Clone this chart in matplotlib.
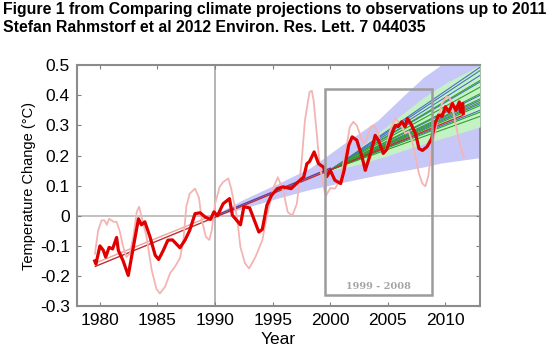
import numpy as np
import matplotlib
matplotlib.use("Agg")
import matplotlib.pyplot as plt
from matplotlib.patches import Rectangle

plt.rcParams['font.family'] = ['Liberation Sans', 'DejaVu Sans']

# observations, adjusted (thick red)
obsYear = [1979.55, 1979.65, 1979.8, 1980.0, 1980.3, 1980.5, 1980.8, 1981.1, 1981.45, 1981.6,
           1982.0, 1982.46, 1982.9, 1983.35, 1983.6, 1983.9, 1984.35, 1984.8, 1985.1, 1985.5,
           1985.9, 1986.3, 1986.95, 1987.4, 1987.8, 1988.26, 1988.7, 1989.13, 1989.6, 1989.9,
           1990.2, 1990.7, 1991.25, 1991.5, 1992.2, 1992.5, 1993.0, 1993.8, 1994.1, 1994.5,
           1994.9, 1995.4, 1995.9, 1996.6, 1997.2, 1997.7, 1997.97, 1998.2, 1998.6, 1998.98,
           1999.4, 1999.7, 2000.0, 2000.4, 2000.9, 2001.2, 2001.6, 2001.9, 2002.3, 2002.76,
           2003.04, 2003.5, 2003.9, 2004.2, 2004.6, 2004.9, 2005.4, 2005.65, 2005.9, 2006.2,
           2006.5, 2006.7, 2007.0, 2007.4, 2007.7, 2008.0, 2008.4, 2008.8, 2009.1, 2009.4,
           2009.7, 2010.0, 2010.3, 2010.6, 2010.9, 2011.2, 2011.3, 2011.5, 2011.55]
obsAdj = [-0.15, -0.16, -0.135, -0.10, -0.115, -0.137, -0.105, -0.11, -0.072, -0.115,
          -0.148, -0.198, -0.104, -0.01, -0.03, -0.02, -0.07, -0.131, -0.145, -0.115,
          -0.081, -0.08, -0.106, -0.08, -0.048, 0.007, 0.01, -0.004, -0.012, 0.013,
          0.0, 0.04, 0.057, 0.002, -0.03, 0.03, 0.026, -0.054, -0.045, 0.035,
          0.068, 0.09, 0.096, 0.09, 0.112, 0.129, 0.173, 0.18, 0.212, 0.173,
          0.162, 0.13, 0.151, 0.118, 0.107, 0.15, 0.234, 0.262, 0.251, 0.195,
          0.151, 0.207, 0.267, 0.25, 0.207, 0.22, 0.278, 0.3, 0.296, 0.312,
          0.296, 0.323, 0.305, 0.273, 0.223, 0.217, 0.229, 0.256, 0.306, 0.334,
          0.33, 0.362, 0.345, 0.373, 0.35, 0.378, 0.345, 0.373, 0.34]

# observations, unadjusted (pink)
rawYear = [1979.57, 1979.85, 1980.15, 1980.4, 1980.6, 1980.8, 1981.2, 1981.45, 1981.74, 1982.0,
           1982.3, 1982.6, 1982.9, 1983.2, 1983.4, 1983.6, 1984.05, 1984.5, 1984.9, 1985.2,
           1985.65, 1986.1, 1986.5, 1986.96, 1987.25, 1987.5, 1987.8, 1988.26, 1988.6, 1988.85,
           1989.2, 1989.5, 1989.7, 1990.0, 1990.4, 1990.7, 1991.15, 1991.4, 1991.6, 1991.9,
           1992.2, 1992.6, 1992.95, 1993.5, 1994.1, 1994.5, 1995.1, 1995.45, 1995.9, 1996.3,
           1996.7, 1997.1, 1997.5, 1997.8, 1998.2, 1998.4, 1998.55, 1998.8, 1999.1, 1999.6,
           2000.0, 2000.4, 2000.87, 2001.3, 2001.7, 2002.0, 2002.3, 2002.76, 2003.0, 2003.5,
           2003.8, 2004.1, 2004.5, 2004.8, 2005.2, 2005.65, 2006.1, 2006.5, 2006.8, 2007.1,
           2007.4, 2007.7, 2008.0, 2008.26, 2008.5, 2008.8, 2009.3, 2009.7, 2010.1, 2010.4,
           2010.7, 2011.0, 2011.3, 2011.6]
obsRaw = [-0.126, -0.048, -0.015, -0.015, -0.03, -0.01, -0.02, -0.02, -0.054, -0.10,
          -0.137, -0.125, -0.07, 0.013, 0.03, 0.0, -0.07, -0.181, -0.242, -0.258,
          -0.236, -0.19, -0.17, -0.14, -0.081, 0.03, 0.074, 0.09, 0.06, -0.015,
          -0.07, -0.08, -0.05, 0.04, 0.096, 0.112, 0.124, 0.09, 0.051, -0.004,
          -0.104, -0.158, -0.175, -0.137, -0.081, 0.0, 0.096, 0.128, 0.085, 0.013,
          0.0, 0.04, 0.173, 0.317, 0.411, 0.415, 0.384, 0.284, 0.162, 0.065,
          0.092, 0.09, 0.118, 0.207, 0.295, 0.312, 0.3, 0.251, 0.24, 0.295,
          0.3, 0.28, 0.212, 0.215, 0.284, 0.323, 0.305, 0.273, 0.28, 0.25,
          0.195, 0.14, 0.107, 0.098, 0.13, 0.218, 0.317, 0.373, 0.395, 0.39,
          0.34, 0.284, 0.229, 0.195]

# linear trends
trendYear = [1979.6, 2011.5]
trendVal = [-0.168, 0.333]
trendRawYear = [1979.6, 1990.5]
trendRawVal = [-0.157, 0.012]
bandMidYear = [1990.0, 2000.0]
bandMidVal = [0.0, 0.158]

# projection range (blue)
projYear = [1990.0, 1992.5, 1995.4, 1998.3, 2001.2, 2004.1, 2006.4, 2008.1, 2009.6, 2013.0]
projLow = [0.0, 0.025, 0.058, 0.088, 0.112, 0.135, 0.15, 0.162, 0.175, 0.193]
projHigh = [0.005, 0.055, 0.106, 0.16, 0.24, 0.316, 0.4, 0.46, 0.5, 0.62]

# model range (green)
modYear = [2000.0, 2002.6, 2005.0, 2008.0, 2010.0, 2013.0]
modLow = [0.15, 0.172, 0.2, 0.238, 0.26, 0.295]
modHigh = [0.155, 0.228, 0.3, 0.39, 0.44, 0.5]

# individual runs, start 2000 and value at 2013
runStart = [2000.0, 0.152]
blueEnds = [0.493, 0.482, 0.466, 0.444, 0.40, 0.383, 0.372, 0.35]
greenEnds = [0.449, 0.427, 0.405, 0.388, 0.377, 0.366, 0.344, 0.33]

title1 = 'Figure 1 from Comparing climate projections to observations up to 2011'
title2 = 'Stefan Rahmstorf et al 2012 Environ. Res. Lett. 7 044035'

fig = plt.figure(figsize=(5.53, 3.56), dpi=100)
ax = fig.add_axes([0.139, 0.14, 0.729, 0.677])

ax.axhline(0, color='#b8b8b8', lw=1.2, zorder=1)
ax.axvline(1990, color='#a8a8a8', lw=1.2, zorder=1)

ax.fill_between(projYear, projLow, projHigh, color='#c8c8f8', lw=0, zorder=2)
ax.fill_between(modYear, modLow, modHigh, color='#c4f2c4', lw=0, zorder=3)

for e in blueEnds:
    ax.plot([runStart[0], 2013.0], [runStart[1], e], color='#4a72c0', lw=0.8, zorder=4)
for e in greenEnds:
    ax.plot([runStart[0], 2013.0], [runStart[1], e], color='#30a030', lw=0.8, zorder=4)

ax.plot(trendRawYear, trendRawVal, color='#f0a0a0', lw=1.0, zorder=5)
ax.plot(trendYear, trendVal, color='#b83030', lw=1.0, zorder=5)
ax.plot(bandMidYear, bandMidVal, color='#6a3d9a', lw=1.0, zorder=5)

ax.plot(rawYear, obsRaw, color='#f4b4b4', lw=1.3, zorder=6)
ax.plot(obsYear, obsAdj, color='#e00000', lw=2.3, zorder=7)

ax.add_patch(Rectangle((1999.5, -0.264), 9.3, 0.684, fill=False,
                       edgecolor='#9c9c9c', lw=1.8, zorder=8))
ax.text(2004.15, -0.236, '1999 - 2008', color='#a4a4a4', fontsize=7,
        fontweight='bold', family='DejaVu Serif', ha='center', va='center', zorder=8)

ax.set_xlim(1978, 2013)
ax.set_ylim(-0.3, 0.5)
ax.set_xticks(range(1980, 2011, 5))
ax.set_yticks([-0.3, -0.2, -0.1, 0, 0.1, 0.2, 0.3, 0.4, 0.5])
ax.set_yticklabels(['-0.3', '-0.2', '-0.1', '0', '0.1', '0.2', '0.3', '0.4', '0.5'])
ax.tick_params(direction='in', top=True, right=True, length=3, color='#808080',
               labelsize=12.5, pad=5)
for s in ax.spines.values():
    s.set_color('#8c8c8c')
    s.set_linewidth(1.5)

ax.set_xlabel('Year', fontsize=12.5, labelpad=3)
ax.set_ylabel('Temperature Change (\u00b0C)', fontsize=10.5, labelpad=3)

t1 = fig.text(0.006, 0.995, title1, fontsize=10.6, fontweight='bold', va='top', ha='left')
t2 = fig.text(0.006, 0.943, title2, fontsize=10.6, fontweight='bold', va='top', ha='left')

# fit the first title line to the width it has in the original (~547 px)
fig.canvas.draw()
w = t1.get_window_extent().width
fs = 10.6 * 547.0 / w
t1.set_fontsize(fs)
t2.set_fontsize(fs)

fig.savefig('out.png', dpi=100)
